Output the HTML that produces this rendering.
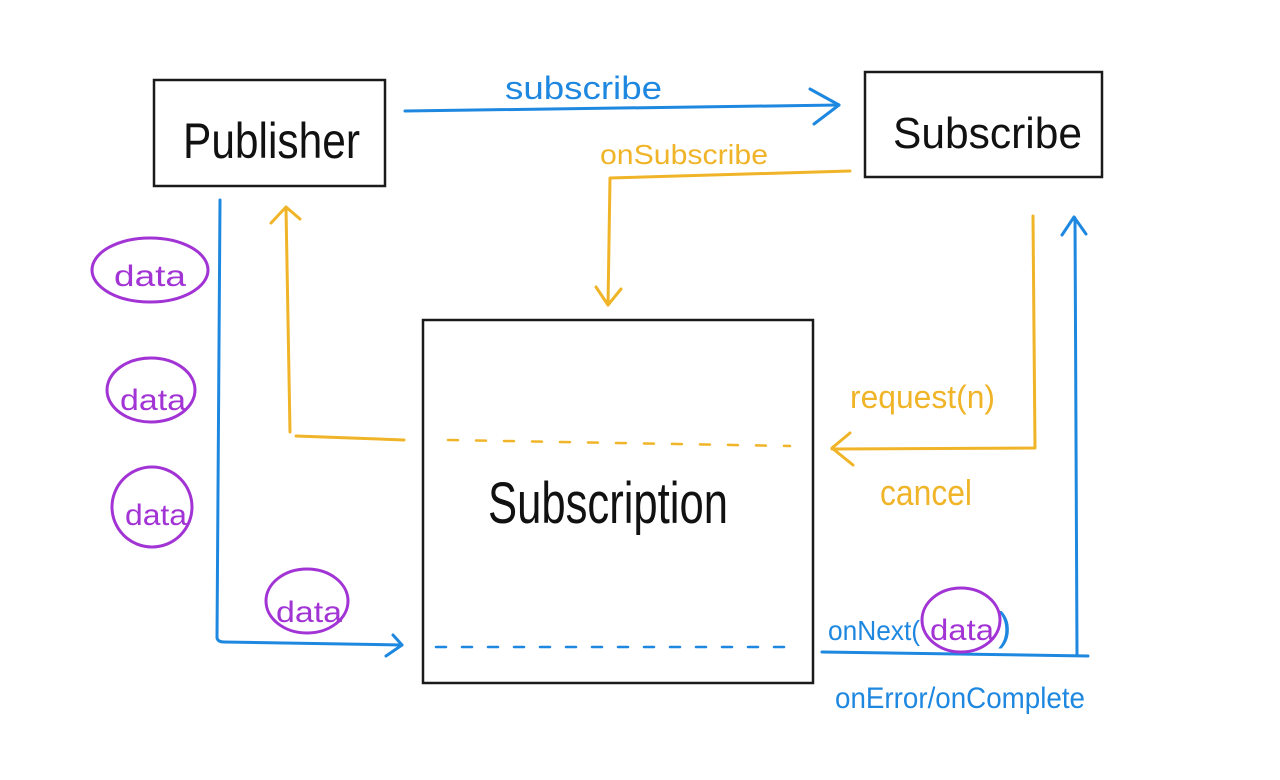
<!DOCTYPE html>
<html>
<head>
<meta charset="utf-8">
<style>
  html,body{margin:0;padding:0;background:#fff;}
  svg{display:block;}
  text{font-family:"Liberation Sans","DejaVu Sans",sans-serif;}
</style>
</head>
<body>
<svg width="1280" height="780" viewBox="0 0 1280 780" xmlns="http://www.w3.org/2000/svg">
  <rect width="1280" height="780" fill="#ffffff"/>

  <!-- Boxes -->
  <rect x="154" y="80" width="231" height="106" fill="none" stroke="#1a1a1a" stroke-width="2.5"/>
  <rect x="865" y="72" width="237" height="105" fill="none" stroke="#1a1a1a" stroke-width="2.5"/>
  <rect x="423" y="320" width="390" height="363" fill="none" stroke="#1a1a1a" stroke-width="2.5"/>

  <!-- Box labels -->
  <text x="183" y="158" font-size="50" fill="#111" textLength="177" lengthAdjust="spacingAndGlyphs">Publisher</text>
  <text x="893" y="148" font-size="44" fill="#111" textLength="189" lengthAdjust="spacingAndGlyphs">Subscribe</text>
  <text x="488" y="523" font-size="58" fill="#111" textLength="240" lengthAdjust="spacingAndGlyphs">Subscription</text>

  <!-- Blue: subscribe arrow -->
  <g fill="none" stroke="#1e88e0" stroke-width="3" stroke-linecap="round" stroke-linejoin="round">
    <path d="M405 111 L839 105"/>
    <path d="M810 89 L839 105 L814 124"/>
    <!-- left vertical + bottom arrow -->
    <path d="M220 200 L217 638 Q218 642 224 642 L402 645"/>
    <path d="M393 635 L402 645 L386 656"/>
    <!-- blue dashed inside subscription -->
    <path d="M436 647 L790 647" stroke-dasharray="10 16" stroke-width="2.5"/>
    <!-- right: onNext line up -->
    <path d="M822 652 L1088 656"/>
    <path d="M1077 655 L1075 218"/>
    <path d="M1062 235 L1074 217 L1086 234"/>
  </g>
  <text x="505" y="99" font-size="32" fill="#1e88e0" textLength="157" lengthAdjust="spacingAndGlyphs">subscribe</text>
  <text x="828" y="640" font-size="28" fill="#1e88e0" textLength="92" lengthAdjust="spacingAndGlyphs">onNext(</text>
  <text x="998" y="640" font-size="40" fill="#1e88e0">)</text>
  <text x="835" y="708" font-size="30" fill="#1e88e0" textLength="250" lengthAdjust="spacingAndGlyphs">onError/onComplete</text>

  <!-- Yellow -->
  <g fill="none" stroke="#f0b428" stroke-width="3" stroke-linecap="round" stroke-linejoin="round">
    <path d="M850 171 L610 178 L608 305"/>
    <path d="M596 287 L608 305 L621 289"/>
    <!-- to publisher -->
    <path d="M404 440 L296 436"/>
    <path d="M290 432 L286 208"/>
    <path d="M271 223 L286 207 L300 219"/>
    <!-- dashed inside subscription -->
    <path d="M448 440 L790 446" stroke-dasharray="10 18" stroke-width="2.5"/>
    <!-- right: request/cancel -->
    <path d="M1033 216 L1035 448 L832 449"/>
    <path d="M850 433 L832 448 L853 465"/>
  </g>
  <text x="600" y="164" font-size="28" fill="#f0b428" textLength="168" lengthAdjust="spacingAndGlyphs">onSubscribe</text>
  <text x="850" y="408" font-size="32" fill="#f0b428" textLength="145" lengthAdjust="spacingAndGlyphs">request(n)</text>
  <text x="880" y="505" font-size="36" fill="#f0b428" textLength="92" lengthAdjust="spacingAndGlyphs">cancel</text>

  <!-- Purple data ellipses -->
  <g fill="none" stroke="#a233d4" stroke-width="3">
    <ellipse cx="150" cy="270" rx="58" ry="32"/>
    <ellipse cx="151" cy="390" rx="44" ry="32"/>
    <ellipse cx="152" cy="507" rx="40" ry="40"/>
    <ellipse cx="307" cy="601" rx="41" ry="32"/>
    <ellipse cx="961" cy="620" rx="39" ry="32"/>
  </g>
  <g fill="#a233d4" font-size="30">
    <text x="114" y="286" textLength="72" lengthAdjust="spacingAndGlyphs">data</text>
    <text x="120" y="410" textLength="66" lengthAdjust="spacingAndGlyphs">data</text>
    <text x="125" y="525" textLength="62" lengthAdjust="spacingAndGlyphs">data</text>
    <text x="276" y="622" textLength="66" lengthAdjust="spacingAndGlyphs">data</text>
    <text x="930" y="640" textLength="64" lengthAdjust="spacingAndGlyphs">data</text>
  </g>
</svg>
</body>
</html>
